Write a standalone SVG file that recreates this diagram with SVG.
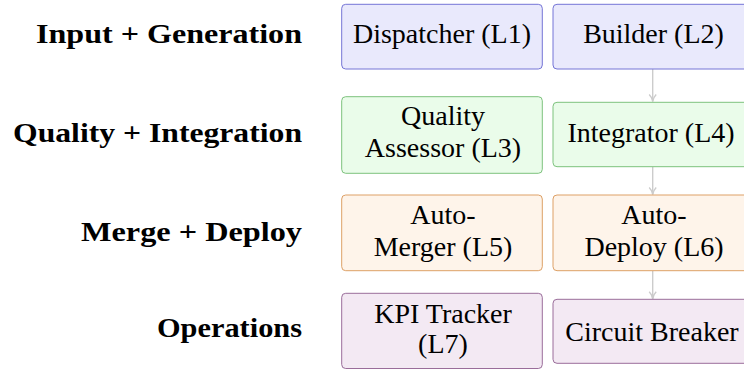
<svg xmlns="http://www.w3.org/2000/svg" width="744" height="370" viewBox="0 0 744 370">
<defs>
<style>
.blue{fill:#E9E9FC;stroke:#7575D6;stroke-width:1}
.green{fill:#EAFCEA;stroke:#7DC27D;stroke-width:1}
.orange{fill:#FEF4EA;stroke:#DDA066;stroke-width:1}
.purple{fill:#F3E9F3;stroke:#9A6D9A;stroke-width:1}
.conn{stroke:#CCCCCC;stroke-width:1.4;fill:none}
</style>
<marker id="ah" markerWidth="10" markerHeight="10" refX="8" refY="5" orient="auto" markerUnits="userSpaceOnUse">
<path d="M1,1.5 Q4,4.5 8,5 Q4,5.5 1,8.5" fill="none" stroke="#CCCCCC" stroke-width="1.4"/>
</marker>
</defs>
<rect width="744" height="370" fill="#fff"/>
<g id="labels">
<text font-family="Liberation Serif" font-weight="bold" font-size="28" text-anchor="end" x="302" y="43.3" textLength="266" lengthAdjust="spacingAndGlyphs">Input + Generation</text>
<text font-family="Liberation Serif" font-weight="bold" font-size="28" text-anchor="end" x="302" y="141.6" textLength="289" lengthAdjust="spacingAndGlyphs">Quality + Integration</text>
<text font-family="Liberation Serif" font-weight="bold" font-size="28" text-anchor="end" x="302" y="240.6" textLength="221" lengthAdjust="spacingAndGlyphs">Merge + Deploy</text>
<text font-family="Liberation Serif" font-weight="bold" font-size="28" text-anchor="end" x="302" y="337.4" textLength="145" lengthAdjust="spacingAndGlyphs">Operations</text>
</g>
<g id="connectors">
<line class="conn" x1="652.7" y1="69" x2="652.7" y2="101.5" marker-end="url(#ah)"/>
<line class="conn" x1="652.7" y1="166.7" x2="652.7" y2="194.5" marker-end="url(#ah)"/>
<line class="conn" x1="652.7" y1="270.7" x2="652.7" y2="298.8" marker-end="url(#ah)"/>
</g>
<g id="dispatcher">
<rect class="blue" x="341.7" y="4.3" width="200.6" height="64.7" rx="4"/>
<text font-family="Liberation Serif" font-size="28" text-anchor="middle" x="442" y="43.3">Dispatcher (L1)</text>
</g>
<g id="builder">
<rect class="blue" x="553" y="4.3" width="200.6" height="64.7" rx="4"/>
<text font-family="Liberation Serif" font-size="28" text-anchor="middle" x="653.5" y="43.3">Builder (L2)</text>
</g>
<g id="quality">
<rect class="green" x="341.7" y="96.7" width="200.6" height="76.6" rx="4"/>
<text font-family="Liberation Serif" font-size="28" text-anchor="middle" x="443" y="124.5">Quality</text>
<text font-family="Liberation Serif" font-size="28" text-anchor="middle" x="443" y="156.5">Assessor (L3)</text>
</g>
<g id="integrator">
<rect class="green" x="553" y="102.3" width="200.6" height="64.4" rx="4"/>
<text font-family="Liberation Serif" font-size="28" text-anchor="middle" x="651" y="141.6">Integrator (L4)</text>
</g>
<g id="merger">
<rect class="orange" x="341.7" y="195" width="200.6" height="75.7" rx="4"/>
<text font-family="Liberation Serif" font-size="28" text-anchor="middle" x="443" y="224.3">Auto-</text>
<text font-family="Liberation Serif" font-size="28" text-anchor="middle" x="443" y="256">Merger (L5)</text>
</g>
<g id="deploy">
<rect class="orange" x="553" y="195" width="200.6" height="75.7" rx="4"/>
<text font-family="Liberation Serif" font-size="28" text-anchor="middle" x="654" y="224.3">Auto-</text>
<text font-family="Liberation Serif" font-size="28" text-anchor="middle" x="654" y="256">Deploy (L6)</text>
</g>
<g id="kpi">
<rect class="purple" x="341.7" y="293.3" width="200.6" height="75.2" rx="4"/>
<text font-family="Liberation Serif" font-size="28" text-anchor="middle" x="443" y="322.7">KPI Tracker</text>
<text font-family="Liberation Serif" font-size="28" text-anchor="middle" x="443" y="352.6">(L7)</text>
</g>
<g id="breaker">
<rect class="purple" x="553" y="299.3" width="200.6" height="64" rx="4"/>
<text font-family="Liberation Serif" font-size="28" text-anchor="middle" x="652" y="341">Circuit Breaker</text>
</g>
</svg>
